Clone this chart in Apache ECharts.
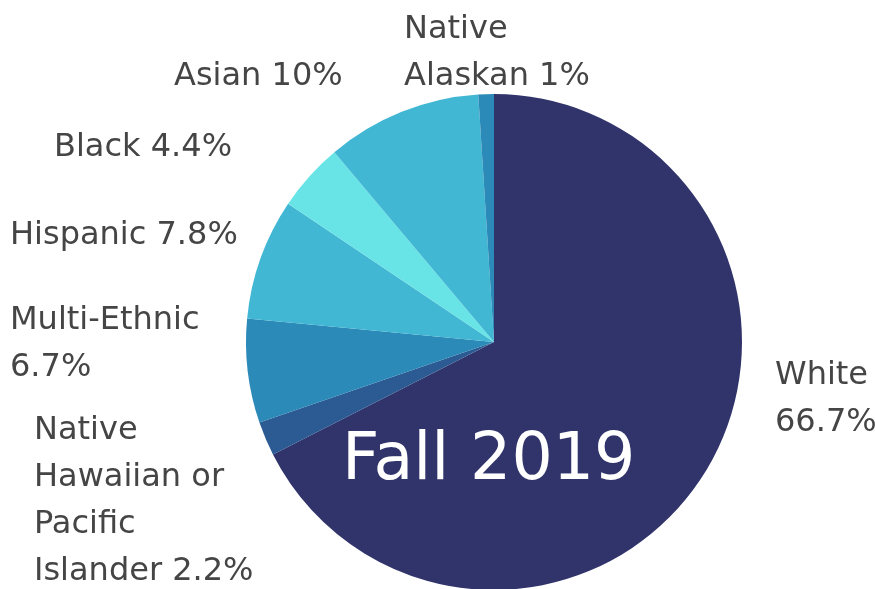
<!DOCTYPE html>
<html>
<head>
<meta charset="utf-8">
<script src="https://cdn.jsdelivr.net/npm/echarts@6/dist/echarts.min.js"></script>
<style>
  html, body { margin: 0; padding: 0; background: #fff; }
  #pie-ethnicity { width: 875px; height: 589px; }
</style>
</head>
<body>
<div id="pie-ethnicity"></div>
<script>
// data, clockwise from 12 o'clock
const categories = ["White", "Native Hawaiian or Pacific Islander", "Multi-Ethnic", "Hispanic", "Black", "Asian", "Native Alaskan"];
const values = [66.7, 2.2, 6.7, 7.8, 4.4, 10, 1];
const labelTexts = [
  "White\n66.7%",
  "Native\nHawaiian or\nPacific\nIslander 2.2%",
  "Multi-Ethnic\n6.7%",
  "Hispanic 7.8%",
  "Black 4.4%",
  "Asian 10%",
  "Native\nAlaskan 1%"
];

const colors = ["#31346b", "#2c5b94", "#2b8ab8", "#41b7d4", "#69e4e6", "#41b7d4", "#2b8ab8"];
// top-left corner of each label block
const labelPos = [
  [775, 352],
  [34, 407],
  [10, 297],
  [10, 212],
  [54, 124],
  [174, 53],
  [404, 6]
];

let dom = document.getElementById("pie-ethnicity");
let myChart = echarts.init(dom);
let option = {
  animation: false,
  title: {
    text: "Fall 2019",
    left: 337,
    top: 425,
    textStyle: {
      color: "#ffffff",
      fontSize: 65,
      fontWeight: "normal",
      fontFamily: "DejaVu Sans"
    }
  },
  series: [
    {
      type: "pie",
      center: [494, 342],
      radius: 248,
      startAngle: 90,
      clockwise: true,
      itemStyle: {
        borderWidth: 0
      },
      label: {
        show: true,
        position: "outside",
        overflow: "none",
        color: "#454545",
        fontSize: 32,
        lineHeight: 47,
        fontFamily: "DejaVu Sans",
        formatter: function (p) {
          return labelTexts[p.dataIndex];
        }
      },
      labelLine: { show: false },
      labelLayout: function (params) {
        let pos = labelPos[params.dataIndex];
        return { x: pos[0], y: pos[1], align: "left", verticalAlign: "top" };
      },
      data: categories.map(function (name, i) {
        return { name: name, value: values[i], itemStyle: { color: colors[i] } };
      })
    }
  ]
};
myChart.setOption(option, true);
</script>
</body>
</html>
